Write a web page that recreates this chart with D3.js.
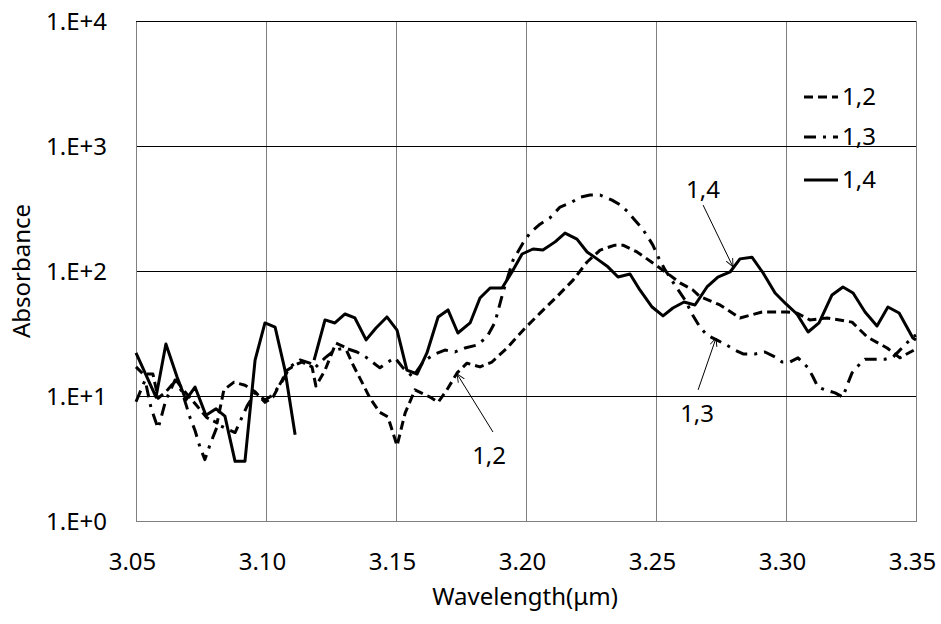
<!DOCTYPE html>
<html>
<head>
<meta charset="utf-8">
<script src="https://cdn.jsdelivr.net/npm/d3@7"></script>
<style>
  html, body { margin: 0; padding: 0; background: #fff; }
  svg { display: block; }
  text { font-family: "Noto Sans", "DejaVu Sans", sans-serif; fill: #000; }
</style>
</head>
<body>
<svg id="chart" width="941" height="624"></svg>
<script>
// ---------------- data ----------------
const xTicks = [3.05, 3.10, 3.15, 3.20, 3.25, 3.30, 3.35];
const xTickLabels = ["3.05", "3.10", "3.15", "3.20", "3.25", "3.30", "3.35"];
const yTicks = [1, 10, 100, 1000, 10000];
const yTickLabels = ["1.E+0", "1.E+1", "1.E+2", "1.E+3", "1.E+4"];
const seriesNames = ["1,2", "1,3", "1,4"];

const wl12 = [3.0500,3.0527,3.0565,3.0585,3.0615,3.0654,3.0688,3.0731,3.0773,3.0812,
  3.0838,3.0877,3.0919,3.0958,3.0996,3.1027,3.1062,3.1081,3.1112,3.1138,
  3.1177,3.1192,3.1227,3.1269,3.1304,3.1335,3.1369,3.1400,3.1438,3.1469,
  3.1504,3.1535,3.1573,3.1631,3.1662,3.1696,3.1735,3.1773,3.1823,3.1869,
  3.1927,3.1996,3.2054,3.2119,3.2181,3.2235,3.2285,3.2342,3.2373,3.2427,
  3.2488,3.2542,3.2592,3.2642,3.2669,3.2746,3.2823,3.2908,3.3004,3.3042,
  3.3092,3.3158,3.3254,3.3312,3.3389,3.3438,3.3500];
const ab12 = [17.1,15.0,15.0,9.6,10.8,13.4,10.8,8.5,6.7,6.1,
  11.2,12.9,12.2,10.8,8.9,9.8,13.4,16.1,17.7,18.7,
  17.1,12.0,16.1,26.5,24.6,17.7,12.9,9.6,7.4,6.8,
  4.0,7.3,11.2,9.8,8.9,11.2,15.3,18.3,17.1,18.7,
  24.2,34.9,46,62.4,84.6,118,147,161,161,142,
  116,96.4,80.4,70.5,62.4,53.5,42.1,47,47,46,
  40.6,42.1,39,29.7,24.2,20.2,23.8];

const wl13 = [3.0500,3.0535,3.0558,3.0585,3.0615,3.0650,3.0677,3.0708,3.0727,3.0746,
  3.0765,3.0785,3.0815,3.0881,3.0927,3.0958,3.0996,3.1027,3.1065,3.1092,
  3.1131,3.1169,3.1188,3.1227,3.1265,3.1304,3.1350,3.1388,3.1438,3.1469,
  3.1496,3.1527,3.1565,3.1604,3.1642,3.1688,3.1727,3.1765,3.1812,3.1850,
  3.1881,3.1912,3.1950,3.1988,3.2015,3.2054,3.2092,3.2131,3.2177,3.2208,
  3.2246,3.2285,3.2331,3.2362,3.2392,3.2419,3.2446,3.2469,3.2488,3.2508,
  3.2535,3.2573,3.2612,3.2642,3.2669,3.2696,3.2735,3.2765,3.2804,3.2835,
  3.2881,3.2919,3.2958,3.2985,3.3015,3.3046,3.3085,3.3104,3.3123,3.3150,
  3.3189,3.3219,3.3235,3.3254,3.3273,3.3304,3.3342,3.3381,3.3412,3.3438,
  3.3488,3.3500];
const ab13 = [9.0,13.4,8.0,5.5,9.3,13.4,10.8,6.7,5.3,3.9,
  3.1,4.1,5.9,5.1,8.3,10.6,9.3,10.2,13.4,17.1,
  19.4,18.3,16.8,20.2,23.3,24.2,22.5,20.2,16.8,18.7,
  20.2,16.8,14.2,18.7,21.3,23.3,22.5,24.2,25.6,29.7,
  39,68,122,167,201,237,266,325,356,390,
  405,405,369,338,297,255,220,187,161,130,
  102,77,58.5,44,35.6,30.7,28,26,23.3,21.7,
  21.7,22.5,20.5,18.7,18.7,20.2,16.8,14.2,11.8,11.2,
  10.6,9.8,12.2,15.3,17.1,19.7,19.7,19.7,20.5,23.3,
  29.7,30.7];

const wl14 = [3.0500,3.0577,3.0615,3.0658,3.0692,3.0727,3.0769,3.0808,3.0842,3.0881,
  3.0919,3.0958,3.0996,3.1035,3.1073,3.1112,3.1150,
  3.1185,3.1227,3.1265,3.1304,3.1342,3.1385,3.1423,3.1465,3.1504,3.1542,
  3.1581,3.1619,3.1662,3.1700,3.1738,3.1785,3.1823,3.1862,3.1908,3.1946,
  3.1985,3.2027,3.2065,3.2112,3.2150,3.2196,3.2235,3.2273,3.2315,3.2354,
  3.2400,3.2438,3.2485,3.2527,3.2565,3.2608,3.2650,3.2696,3.2738,3.2785,
  3.2823,3.2869,3.2912,3.2958,3.3000,3.3042,3.3085,3.3127,3.3177,3.3219,
  3.3258,3.3304,3.3350,3.3392,3.3435,3.3488,3.3500];
const ab14 = [22.1,9.8,26.1,14.2,9.3,11.8,7.0,7.9,6.9,3.0,
  3.0,19.4,38.4,35.6,16.1,4.9,null,
  19.4,40.6,38.4,45.3,42.1,28.1,35.0,42.9,33.7,16.1,
  15.0,22.1,42.9,48.8,31.9,38.4,60.8,73.1,73.1,98.2,
  136.8,150,147,171,201,180,142,125,108,89.5,
  94.6,70.5,51.5,43.7,50.6,56.5,53.5,74.5,89.5,98.2,
  125,129,96.4,66.7,54.5,45.3,32.5,38.4,64.3,74.5,
  66.7,47.0,36.3,51.5,46.1,29.1,28.0];

// annotation labels with arrows (data coordinates)
const annoNames = ["1,2", "1,3", "1,4"];
const annoTextWl = [3.1858, 3.2658, 3.2681];
const annoTextAb = [3.37, 7.18, 445];
const annoFromWl = [3.1873, 3.2662, 3.2681];
const annoFromAb = [5.15, 11.2, 337];
const annoToWl = [3.1735, 3.2731, 3.2796];
const annoToAb = [15.0, 29.1, 108];

// ---------------- layout ----------------
const svg = d3.select("#chart");
const margin = { left: 136, top: 21, right: 25, bottom: 103 };
const W = 941, H = 624;
const x = d3.scaleLinear().domain([3.05, 3.35]).range([margin.left, W - margin.right]);
const y = d3.scaleLog().domain([1, 10000]).range([H - margin.bottom, margin.top]);

const styles = [
  { dash: "9,5" },
  { dash: "12,7,3,7" },
  { dash: null }
];

// gridlines
svg.append("g").selectAll("line").data(xTicks.slice(1)).join("line")
  .attr("x1", d => x(d)).attr("x2", d => x(d))
  .attr("y1", y(1)).attr("y2", y(10000))
  .attr("stroke", "#7f7f7f").attr("stroke-width", 1).attr("shape-rendering", "crispEdges");
svg.append("g").selectAll("line").data(yTicks.slice(1)).join("line")
  .attr("x1", x(3.05)).attr("x2", x(3.35))
  .attr("y1", d => y(d)).attr("y2", d => y(d))
  .attr("stroke", "#000").attr("stroke-width", 1).attr("shape-rendering", "crispEdges");

// axes
const xAxis = d3.axisBottom(x).tickValues(xTicks).tickSize(0).tickFormat((d, i) => xTickLabels[i]);
const gx = svg.append("g").attr("transform", `translate(0,${y(1)})`).call(xAxis);
gx.select(".domain").attr("stroke", "#7f7f7f").attr("shape-rendering", "crispEdges");
gx.selectAll("text").attr("font-size", 24).attr("dy", null).attr("y", 49).attr("dx", -4)
  .attr("font-family", "Noto Sans");

const yAxis = d3.axisLeft(y).tickValues(yTicks).tickSize(0).tickFormat((d, i) => yTickLabels[i]);
const gy = svg.append("g").attr("transform", `translate(${x(3.05)},0)`).call(yAxis);
gy.select(".domain").attr("stroke", "#7f7f7f").attr("shape-rendering", "crispEdges");
gy.selectAll("text").attr("font-size", 24).attr("dy", null).attr("y", 8.5).attr("x", -29)
  .attr("font-family", "Noto Sans");

// axis titles
svg.append("text").attr("x", 525).attr("y", 605).attr("text-anchor", "middle")
  .attr("font-size", 24).text("Wavelength(μm)");
svg.append("text").attr("transform", `translate(30,${(y(1) + y(10000)) / 2}) rotate(-90)`)
  .attr("text-anchor", "middle").attr("font-size", 24).text("Absorbance");

// series
const series = [
  d3.zip(wl12, ab12),
  d3.zip(wl13, ab13),
  d3.zip(wl14, ab14)
];
const line = d3.line().defined(d => d[1] != null).x(d => x(d[0])).y(d => y(d[1]));
series.forEach((s, i) => {
  svg.append("path").datum(s).attr("d", line)
    .attr("fill", "none").attr("stroke", "#000").attr("stroke-width", 3)
    .attr("stroke-linejoin", "round")
    .attr("stroke-dasharray", styles[i].dash);
});

// annotations
const defs = svg.append("defs");
defs.append("marker").attr("id", "arrow").attr("viewBox", "0 -5 10 10")
  .attr("refX", 9).attr("refY", 0).attr("markerWidth", 9).attr("markerHeight", 9)
  .attr("markerUnits", "userSpaceOnUse").attr("orient", "auto")
  .append("path").attr("d", "M0,-4L9,0L0,4").attr("fill", "none").attr("stroke", "#000").attr("stroke-width", 1);
annoNames.forEach((n, i) => {
  svg.append("line")
    .attr("x1", x(annoFromWl[i])).attr("y1", y(annoFromAb[i]))
    .attr("x2", x(annoToWl[i])).attr("y2", y(annoToAb[i]))
    .attr("stroke", "#000").attr("stroke-width", 1).attr("marker-end", "url(#arrow)");
  svg.append("text").attr("x", x(annoTextWl[i])).attr("y", y(annoTextAb[i]) + 8.5)
    .attr("text-anchor", "middle").attr("font-size", 24).text(n);
});

// legend
const legendBase = [105, 145, 188];
const lg = svg.append("g");
seriesNames.forEach((n, i) => {
  lg.append("line").attr("x1", 804).attr("x2", 838)
    .attr("y1", legendBase[i] - 8).attr("y2", legendBase[i] - 8)
    .attr("stroke", "#000").attr("stroke-width", 3)
    .attr("stroke-dasharray", styles[i].dash);
  lg.append("text").attr("x", 842).attr("y", legendBase[i]).attr("font-size", 24).text(n);
});
</script>
</body>
</html>
